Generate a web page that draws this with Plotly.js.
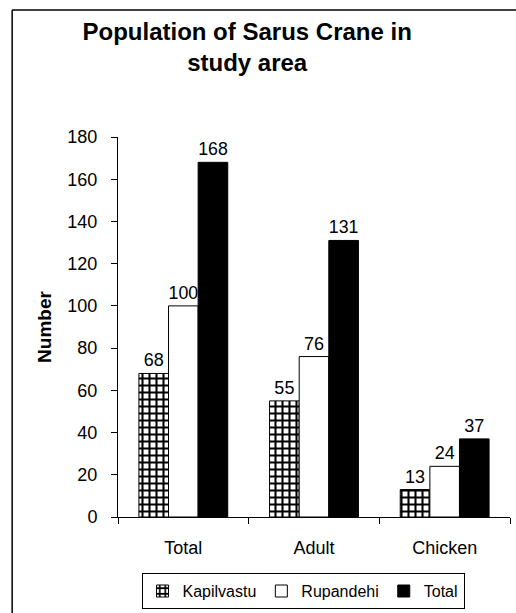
<!DOCTYPE html>
<html>
<head>
<meta charset="utf-8">
<script src="https://cdn.plot.ly/plotly-3.0.1.min.js"></script>
<style>html,body{margin:0;padding:0;background:#fff;}#chart{width:516px;height:613px;}</style>
</head>
<body>
<div id="chart"></div>
<script>
var categories = ["Total", "Adult", "Chicken"];
var kapilvastu = [68, 55, 13];
var rupandehi = [100, 76, 24];
var totalVals = [168, 131, 37];
var yTicks = [0, 20, 40, 60, 80, 100, 120, 140, 160, 180];

var font = "Liberation Sans, Arial, sans-serif";
var lineStyle = {color: "#000", width: 1};

var traces = [
  {type: "bar", name: "Kapilvastu", x: categories, y: kapilvastu, text: kapilvastu.map(String),
   marker: {color: "#fff", line: lineStyle, pattern: {shape: "+", fgcolor: "#000", bgcolor: "#fff", size: 7, solidity: 0.5}}},
  {type: "bar", name: "Rupandehi", x: categories, y: rupandehi, text: rupandehi.map(String),
   marker: {color: "#fff", line: lineStyle}},
  {type: "bar", name: "Total", x: categories, y: totalVals, text: totalVals.map(String),
   marker: {color: "#000", line: lineStyle}}
];
traces.forEach(function(t){
  t.textposition = "outside";
  t.textfont = {family: font, size: 18, color: "#000"};
  t.cliponaxis = false;
});

var layout = {
  width: 516, height: 613,
  margin: {l: 118, r: 6, t: 137, b: 96, autoexpand: false},
  paper_bgcolor: "#fff", plot_bgcolor: "#fff",
  font: {family: font, size: 18, color: "#000"},
  title: {text: "<b>Population of Sarus Crane in<br>study area</b>", font: {family: font, size: 24, color: "#000"},
          x: 0.479, xref: "container", xanchor: "center", y: 0.935, yref: "container", yanchor: "top"},
  barmode: "group", bargap: 0.32, bargroupgap: 0,
  xaxis: {type: "category", showline: true, linecolor: "#000", linewidth: 1, ticks: "outside", tickson: "boundaries",
          ticklen: 6, tickcolor: "#000", showgrid: false, tickfont: {size: 18}, zeroline: false, ticklabelstandoff: 14,
          automargin: false},
  yaxis: {range: [0, 180], tickvals: yTicks, showline: true, linecolor: "#000", linewidth: 1, ticks: "outside",
          ticklen: 6, tickcolor: "#000", showgrid: false, zeroline: false, tickfont: {size: 18}, ticklabelstandoff: 10,
          automargin: false, title: {text: "<b>Number</b>", font: {size: 19}, standoff: 10}},
  legend: {orientation: "h", x: 0.472, xanchor: "center", y: -0.195, yanchor: "middle",
           bordercolor: "#000", borderwidth: 1, font: {size: 16}, itemwidth: 30, tracegroupgap: 0},
  showlegend: true,
  shapes: [
    {type: "line", xref: "paper", yref: "paper", x0: -0.27, x1: 1.02, y0: 1.334, y1: 1.334, line: {color: "#000", width: 1.5}},
    {type: "line", xref: "paper", yref: "paper", x0: -0.27, x1: -0.27, y0: 1.334, y1: -0.26, line: {color: "#000", width: 1.5}}
  ]
};

Plotly.newPlot("chart", traces, layout, {displayModeBar: false, staticPlot: true});
</script>
</body>
</html>
